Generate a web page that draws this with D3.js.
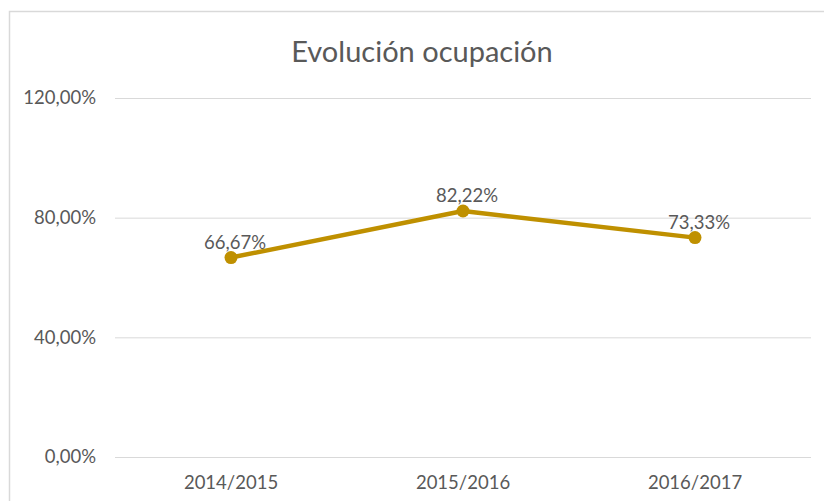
<!DOCTYPE html>
<html>
<head>
<meta charset="utf-8">
<script src="https://cdnjs.cloudflare.com/ajax/libs/d3/7.8.5/d3.min.js"></script>
<style>
  body { margin: 0; background: #fff; }
  text { font-family: Lato, "Noto Sans", sans-serif; fill: #595959; }
</style>
</head>
<body>
<svg id="chart"></svg>
<script>
// datos
var seasons   = ["2014/2015", "2015/2016", "2016/2017"];
var occupancy = [66.67, 82.22, 73.33];
var yTicks    = [0, 40, 80, 120];
var title     = "Evolución ocupación";

var width = 824, height = 501;
var margin = {left: 115, right: 13, top: 98, bottom: 44};
var fontSize = 18.5;

var svg = d3.select("#chart")
    .attr("width", width)
    .attr("height", height);

svg.append("rect")
    .attr("width", width).attr("height", height)
    .attr("fill", "#fff");

// chart frame (runs off the right and bottom edges)
svg.append("rect")
    .attr("x", 9.5).attr("y", 11.5)
    .attr("width", 900).attr("height", 600)
    .attr("fill", "none")
    .attr("stroke", "#d9d9d9")
    .attr("stroke-width", 1.5);

var x = d3.scaleBand()
    .domain(seasons)
    .range([margin.left, width - margin.right]);

var y = d3.scaleLinear()
    .domain([0, 120])
    .range([height - margin.bottom, margin.top]);

var pct = function (d) { return d3.format(".2f")(d).replace(".", ",") + "%"; };

// grid lines + y labels
var yAxis = d3.axisLeft(y)
    .tickValues(yTicks)
    .tickSize(-(width - margin.left - margin.right))
    .tickPadding(19)
    .tickFormat(pct);

var gy = svg.append("g")
    .attr("transform", "translate(" + margin.left + ",0)")
    .call(yAxis);
gy.select(".domain").remove();
gy.selectAll(".tick line")
    .attr("stroke", "#d9d9d9")
    .attr("stroke-width", 1);
gy.selectAll(".tick text")
    .attr("font-size", fontSize)
    .attr("fill", "#595959")
    .attr("font-family", "Lato, 'Noto Sans', sans-serif");

// x labels
var xAxis = d3.axisBottom(x).tickSize(0).tickPadding(19);
var gx = svg.append("g")
    .attr("transform", "translate(0," + (height - margin.bottom) + ")")
    .call(xAxis);
gx.select(".domain").remove();
gx.selectAll(".tick text")
    .attr("font-size", fontSize)
    .attr("fill", "#595959")
    .attr("font-family", "Lato, 'Noto Sans', sans-serif");

var points = seasons.map(function (s, i) { return {season: s, value: occupancy[i]}; });

var cx = function (d) { return x(d.season) + x.bandwidth() / 2; };
var cy = function (d) { return y(d.value); };

svg.append("path")
    .datum(points)
    .attr("d", d3.line().x(cx).y(cy))
    .attr("fill", "none")
    .attr("stroke", "#bf9000")
    .attr("stroke-width", 4.5)
    .attr("stroke-linejoin", "round");

svg.selectAll("circle.pt")
    .data(points)
    .enter().append("circle")
    .attr("class", "pt")
    .attr("cx", cx)
    .attr("cy", cy)
    .attr("r", 6.5)
    .attr("fill", "#bf9000");

svg.selectAll("text.lbl")
    .data(points)
    .enter().append("text")
    .attr("class", "lbl")
    .attr("x", function (d) { return cx(d) + 4; })
    .attr("y", function (d) { return cy(d) - 9; })
    .attr("text-anchor", "middle")
    .attr("font-size", fontSize)
    .text(function (d) { return pct(d.value); });

svg.append("text")
    .attr("x", 422)
    .attr("y", 62)
    .attr("text-anchor", "middle")
    .attr("font-size", 29)
    .text(title);
</script>
</body>
</html>
